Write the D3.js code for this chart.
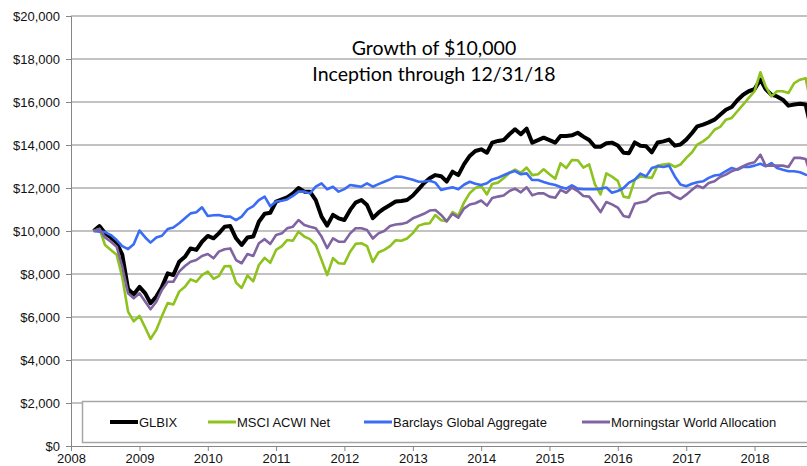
<!DOCTYPE html>
<html>
<head>
<meta charset="utf-8">
<script src="https://cdn.jsdelivr.net/npm/d3@7"></script>
<style>
  body { margin: 0; background: #fff; }
  svg { display: block; }
</style>
</head>
<body>
<div id="chart"></div>
<script>
// month-end values, first point = 30 Apr 2008 (plotted at 1 May)
const startMonth = "2008-05";

const seriesNames = ["GLBIX", "MSCI ACWI Net", "Barclays Global Aggregate", "Morningstar World Allocation"];

const glbix = [
  10000, 10230, 9900, 9700, 9450, 8900, 7300, 7050, 7400, 7100, 6640, 6950,
  7400, 8030, 7950, 8570, 8800, 9190, 9120, 9500, 9770, 9660, 9890, 10200,
  10230, 9660, 9350, 9700, 9740, 10430, 10800, 10850, 11370, 11470, 11560, 11750,
  12000, 11830, 11830, 11440, 10670, 10250, 10750, 10590, 10510, 10980, 11320, 11440,
  11210, 10600, 10850, 11050, 11210, 11370, 11400, 11440, 11650, 11950, 12220, 12450,
  12600, 12550, 12300, 12760, 12600, 13100, 13490, 13720, 13800, 13640, 14110, 14190,
  14230, 14500, 14730, 14500, 14760, 14110, 14230, 14340, 14230, 14110, 14420, 14420,
  14450, 14570, 14390, 14230, 13920, 13920, 14080, 14110, 13980, 13640, 13620, 14120,
  13970, 13940, 13660, 14120, 14170, 14250, 13970, 14020, 14250, 14560, 14870, 14950,
  15050, 15180, 15410, 15640, 15770, 16080, 16340, 16500, 16600, 17040, 16600, 16340,
  16260, 16110, 15830, 15880, 15920, 15880, 14700
];

const msciAcwi = [
  10000, 10100, 9350, 9120, 8900, 7850, 6250, 5800, 6050, 5500, 4980, 5400,
  6050, 6650, 6580, 7180, 7410, 7750, 7640, 7950, 8110, 7780, 7900, 8360,
  8370, 7600, 7350, 7930, 7660, 8420, 8750, 8520, 9120, 9300, 9580, 9550,
  9970, 9740, 9620, 9350, 8650, 7950, 8740, 8500, 8480, 9040, 9400, 9430,
  9300, 8560, 9000, 9120, 9300, 9570, 9550, 9650, 9900, 10250, 10330, 10360,
  10740, 10500, 10450, 10880, 10720, 11320, 11760, 12000, 12090, 11700, 12190, 12250,
  12450, 12700, 12860, 12700, 12950, 12600, 12640, 12870, 12640, 12430, 13150, 12930,
  13300, 13290, 12950, 13100, 12170, 11700, 12680, 12530, 12330, 11600, 11550, 12390,
  12540, 12500, 12470, 13040, 13090, 13130, 12980, 13090, 13400, 13660, 14020, 14170,
  14370, 14710, 14840, 15180, 15260, 15570, 15880, 16190, 16500, 17380, 16730, 16260,
  16500, 16500, 16420, 16880, 17040, 17110, 15800
];

const barclaysAgg = [
  10000, 9970, 9950, 9810, 9580, 9300, 9160, 9380, 10020, 9700, 9460, 9700,
  9780, 10090, 10160, 10360, 10590, 10820, 10870, 11100, 10700, 10730, 10740, 10670,
  10670, 10510, 10670, 11000, 11160, 11440, 11600, 11150, 11370, 11410, 11470, 11630,
  11830, 11830, 11750, 12060, 12220, 11940, 12060, 11830, 11950, 12140, 12100, 12060,
  12220, 12060, 12180, 12290, 12400, 12530, 12520, 12450, 12380, 12290, 12300, 12340,
  12250, 11910, 11980, 12030, 11940, 12150, 12290, 12200, 12140, 12220, 12400, 12480,
  12590, 12710, 12790, 12640, 12680, 12370, 12370, 12280, 12200, 12140, 12050, 11970,
  12120, 11970, 11940, 11940, 11940, 11970, 12020, 11780, 11860, 12000, 12250, 12390,
  12670, 12540, 12930, 13010, 12980, 13040, 12540, 12160, 12080, 12200, 12270, 12310,
  12470, 12580, 12620, 12780, 12930, 12850, 12980, 12980, 13040, 13130, 13010, 13160,
  12930, 12850, 12780, 12780, 12730, 12620, 12550
];

const mstarWorld = [
  10000, 10090, 9700, 9500, 9270, 8340, 7100, 6870, 7100, 6710, 6360, 6710,
  7260, 7640, 7640, 8110, 8370, 8570, 8650, 8840, 8930, 8730, 9040, 9150,
  9190, 8650, 8500, 8930, 8840, 9430, 9620, 9400, 9815, 9890, 10125, 10200,
  10510, 10280, 10200, 10125, 9740, 9200, 9660, 9505, 9500, 9890, 10130, 10125,
  10050, 9650, 9890, 10000, 10230, 10300, 10330, 10400, 10590, 10700, 10800, 10950,
  10980, 10745, 10450, 10800, 10620, 11040, 11230, 11290, 11420, 11180, 11530, 11600,
  11650, 11860, 11970, 11800, 12030, 11660, 11750, 11750, 11600, 11550, 11910, 11780,
  12020, 11860, 11630, 11600, 11240, 10880, 11350, 11240, 11090, 10700, 10640, 11270,
  11330, 11380, 11610, 11740, 11770, 11800, 11610, 11490, 11690, 11920, 12110, 12000,
  12230, 12310, 12510, 12620, 12780, 12880, 13010, 13130, 13200, 13550, 13040, 13040,
  13040, 13040, 12980, 13400, 13400, 13350, 12500
];

const yearTicks = [2008, 2009, 2010, 2011, 2012, 2013, 2014, 2015, 2016, 2017, 2018];
const valueTicks = [0, 2000, 4000, 6000, 8000, 10000, 12000, 14000, 16000, 18000, 20000];
const titleLines = ["Growth of $10,000", "Inception through 12/31/18"];

const colors = ["#000000", "#8DC21F", "#3B6CF6", "#8064A2"];
const widths = [4, 2.6, 2.6, 2.6];

const W = 807, H = 466;
const plotLeft = 71, plotBottom = 446, plotTop = 16;
const yearWidth = 68.35;

const svg = d3.select("#chart")
  .append("svg")
  .attr("width", W)
  .attr("height", H);

const parseMonth = d3.timeParse("%Y-%m");
const dates = glbix.map((d, i) => d3.timeMonth.offset(parseMonth(startMonth), i));

// the plot runs on past the right edge of the picture (to end of 2018)
const x = d3.scaleTime()
  .domain([new Date(2008, 0, 1), new Date(2019, 0, 1)])
  .range([plotLeft, plotLeft + 11 * yearWidth]);

const y = d3.scaleLinear()
  .domain([0, 20000])
  .range([plotBottom, plotTop]);

// gridlines
svg.append("g")
  .selectAll("line")
  .data(valueTicks.slice(1))
  .enter()
  .append("line")
  .attr("x1", plotLeft)
  .attr("x2", W)
  .attr("y1", d => y(d))
  .attr("y2", d => y(d))
  .attr("stroke", "#858585")
  .attr("stroke-width", 1);

const yAxis = svg.append("g")
  .attr("transform", "translate(" + plotLeft + ",0)")
  .call(d3.axisLeft(y).tickValues(valueTicks).tickSize(5).tickPadding(6).tickFormat(d3.format("$,")));

const xAxis = svg.append("g")
  .attr("transform", "translate(0," + plotBottom + ")")
  .call(d3.axisBottom(x)
    .tickValues(yearTicks.map(yr => new Date(yr, 0, 1)))
    .tickSize(5)
    .tickPadding(3)
    .tickFormat(d3.timeFormat("%Y")));

xAxis.select(".domain").attr("d", "M" + plotLeft + ",0.5H" + W);

[yAxis, xAxis].forEach(ax => {
  ax.select(".domain").attr("stroke", "#858585");
  ax.selectAll(".tick line").attr("stroke", "#858585");
  ax.selectAll("text")
    .style("font-family", "'Liberation Sans', Arial, sans-serif")
    .style("font-size", "13px")
    .attr("fill", "#111");
});

// lines
const line = d3.line()
  .x((d, i) => x(dates[i]))
  .y(d => y(d));

[glbix, msciAcwi, barclaysAgg, mstarWorld].forEach((series, k) => {
  svg.append("path")
    .datum(series)
    .attr("fill", "none")
    .attr("stroke", colors[k])
    .attr("stroke-width", widths[k])
    .attr("stroke-linejoin", "round")
    .attr("d", line);
});

// title
svg.append("g")
  .selectAll("text")
  .data(titleLines)
  .enter()
  .append("text")
  .attr("x", 434)
  .attr("y", (d, i) => 55 + i * 25.5)
  .attr("text-anchor", "middle")
  .style("font-family", "Lato, 'Open Sans', sans-serif")
  .style("font-size", "19.5px")
  .attr("fill", "#000")
  .text(d => d);

// legend
const legend = svg.append("g");

legend.append("rect")
  .attr("x", 82.5)
  .attr("y", 401.5)
  .attr("width", 760)
  .attr("height", 41)
  .attr("fill", "#fff")
  .attr("stroke", "#a6a6a6")
  .attr("stroke-width", 1.5);

const legendX = [110, 208, 364, 582];

const legendItems = legend.selectAll(".legend-item")
  .data(seriesNames)
  .enter()
  .append("g")
  .attr("class", "legend-item")
  .attr("transform", (d, i) => "translate(" + legendX[i] + ",422)");

legendItems.append("line")
  .attr("x1", 0)
  .attr("x2", 28)
  .attr("stroke", (d, i) => colors[i])
  .attr("stroke-width", (d, i) => i === 0 ? 4 : 3);

legendItems.append("text")
  .attr("x", 29)
  .attr("y", 5)
  .style("font-family", "'Liberation Sans', Arial, sans-serif")
  .style("font-size", "13px")
  .attr("fill", "#111")
  .text(d => d);
</script>
</body>
</html>
